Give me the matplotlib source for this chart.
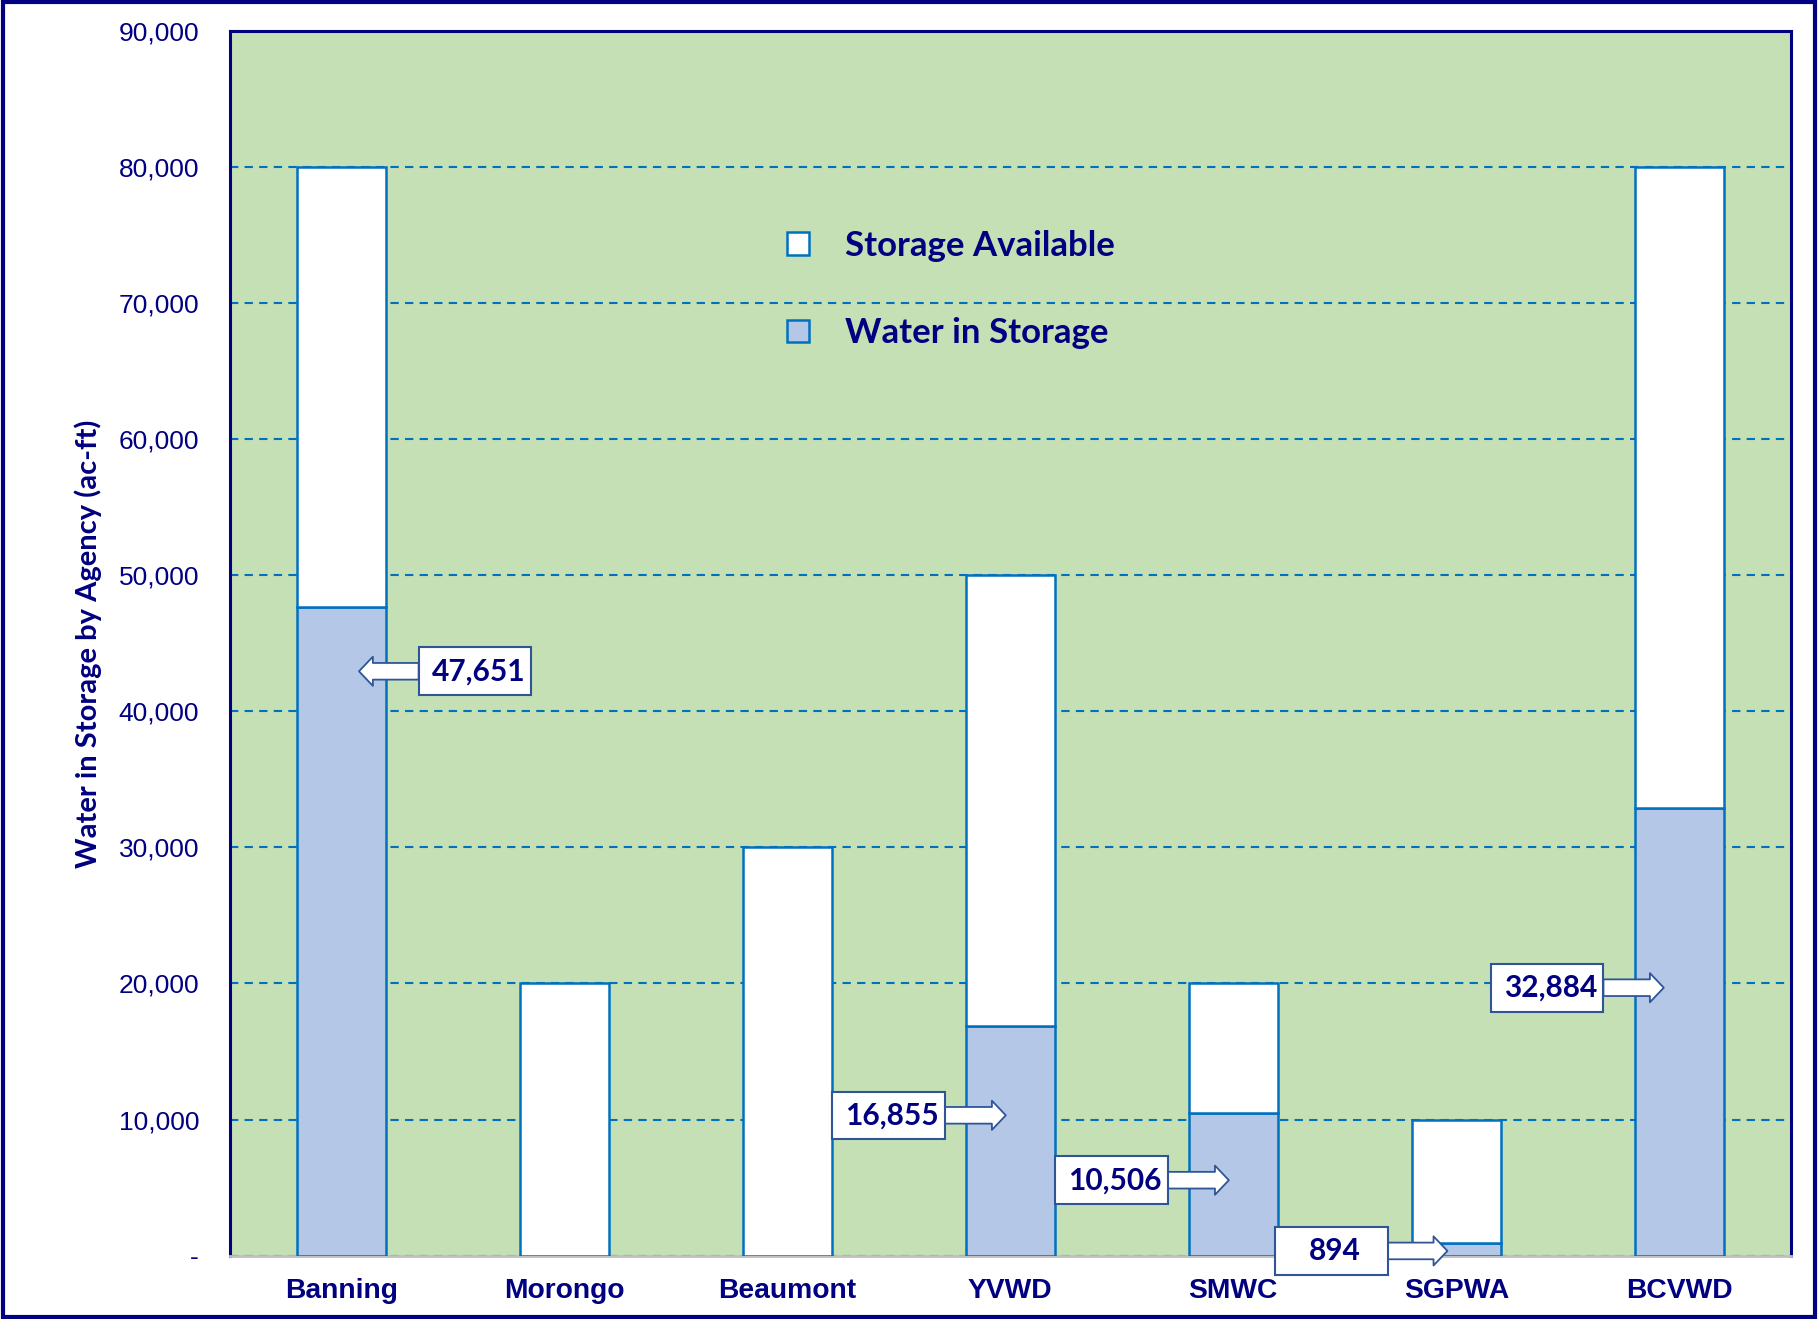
import matplotlib
matplotlib.use('Agg')
import matplotlib.pyplot as plt
from matplotlib.patches import Patch, Rectangle
from matplotlib.ticker import FuncFormatter
import numpy as np

agencies = ['Banning', 'Morongo', 'Beaumont', 'YVWD', 'SMWC', 'SGPWA', 'BCVWD']
capacity = [80000, 20000, 30000, 50000, 20000, 10000, 80000]
water_in_storage = [47651, 0, 0, 16855, 10506, 894, 32884]

# callouts: which bar, box x offset from bar, y level of arrow, tip offset
callout_idx = [0, 3, 4, 5, 6]
callout_box_dx = [0.60, -0.545, -0.547, -0.56, -0.593]
callout_tip_dx = [0.08, -0.02, -0.02, -0.04, -0.07]
callout_y = [42950, 10310, 5540, 340, 19690]

NAVY = '#000080'
BLUE = '#0070C0'
BOXBLUE = '#2F5597'
GREEN = '#C5E0B4'
WATER = '#B4C7E7'

available = [c - w for c, w in zip(capacity, water_in_storage)]
x = np.arange(len(agencies))

fig = plt.figure(figsize=(18.18, 13.19), dpi=100)
ax = fig.add_axes([0.1263, 0.0481, 0.8588, 0.9282])
ax.set_facecolor(GREEN)

ax.bar(x, water_in_storage, width=0.4, color=WATER, edgecolor=BLUE, linewidth=1.8, zorder=3)
ax.bar(x, available, width=0.4, bottom=water_in_storage, color='white', edgecolor=BLUE,
       linewidth=1.8, zorder=3)

ax.set_xlim(-0.5, len(agencies) - 0.5)
ax.set_ylim(0, 90000)
ax.set_yticks(np.arange(0, 90001, 10000))
ax.yaxis.set_major_formatter(FuncFormatter(lambda v, p: '-' if v == 0 else f'{int(v):,}'))
ax.yaxis.grid(True, color=BLUE, linestyle=(0, (4, 3)), linewidth=1.5, zorder=1)
ax.set_axisbelow(True)

ax.set_xticks(x)
ax.set_xticklabels(agencies, fontsize=20.3, fontweight='bold', color=NAVY,
                   family='Liberation Sans')
for lab in ax.get_yticklabels():
    lab.set_fontsize(19)
    lab.set_color(NAVY)
    lab.set_family('Liberation Sans')
ax.tick_params(axis='y', length=0, pad=22)
ax.tick_params(axis='x', length=0, pad=16)

for side in ['top', 'left', 'right']:
    ax.spines[side].set_color(NAVY)
    ax.spines[side].set_linewidth(2.2)
ax.spines['bottom'].set_color('#BFBFBF')
ax.spines['bottom'].set_linewidth(2)

ax.set_ylabel('Water in Storage by Agency (ac-ft)', fontsize=21, fontweight='bold',
              color=NAVY, family='Lato')
ax.yaxis.set_label_coords(-0.082, 0.5)

handles = [Patch(facecolor='white', edgecolor=BLUE, linewidth=1.8, label='Storage Available'),
           Patch(facecolor=WATER, edgecolor=BLUE, linewidth=1.8, label='Water in Storage')]
leg = ax.legend(handles=handles, loc='center left', bbox_to_anchor=(0.357, 0.789),
                frameon=False, handlelength=0.62, handleheight=0.62, handletextpad=1.05,
                labelspacing=1.6, borderpad=0, borderaxespad=0,
                prop={'family': 'Lato', 'weight': 'bold', 'size': 25})
for t in leg.get_texts():
    t.set_color(NAVY)

box_w, box_h = 0.505, 3500
for i, bdx, tdx, yy in zip(callout_idx, callout_box_dx, callout_tip_dx, callout_y):
    cx = x[i] + bdx
    tip = x[i] + tdx
    edge = cx - box_w / 2 if tip < cx else cx + box_w / 2
    ax.annotate('', xy=(tip, yy), xytext=(edge, yy), zorder=5, annotation_clip=False,
                arrowprops=dict(arrowstyle='simple,head_length=0.5,head_width=1.05,tail_width=0.6',
                                mutation_scale=20, fc='white', ec=BOXBLUE, lw=1.3,
                                shrinkA=0, shrinkB=0))
    ax.add_patch(Rectangle((cx - box_w / 2, yy - box_h / 2), box_w, box_h, fc='white',
                           ec=BOXBLUE, lw=1.5, zorder=6, clip_on=False))
    ax.text(cx + 0.015, yy, f'{water_in_storage[i]:,}', ha='center', va='center',
            fontsize=21.5, fontweight='bold', color=NAVY, family='Lato', zorder=7)

fig.patches.append(Rectangle((0.0015, 0.0015), 0.997, 0.997, transform=fig.transFigure,
                             fill=False, edgecolor=NAVY, linewidth=3))

fig.savefig('out.png', dpi=100)
